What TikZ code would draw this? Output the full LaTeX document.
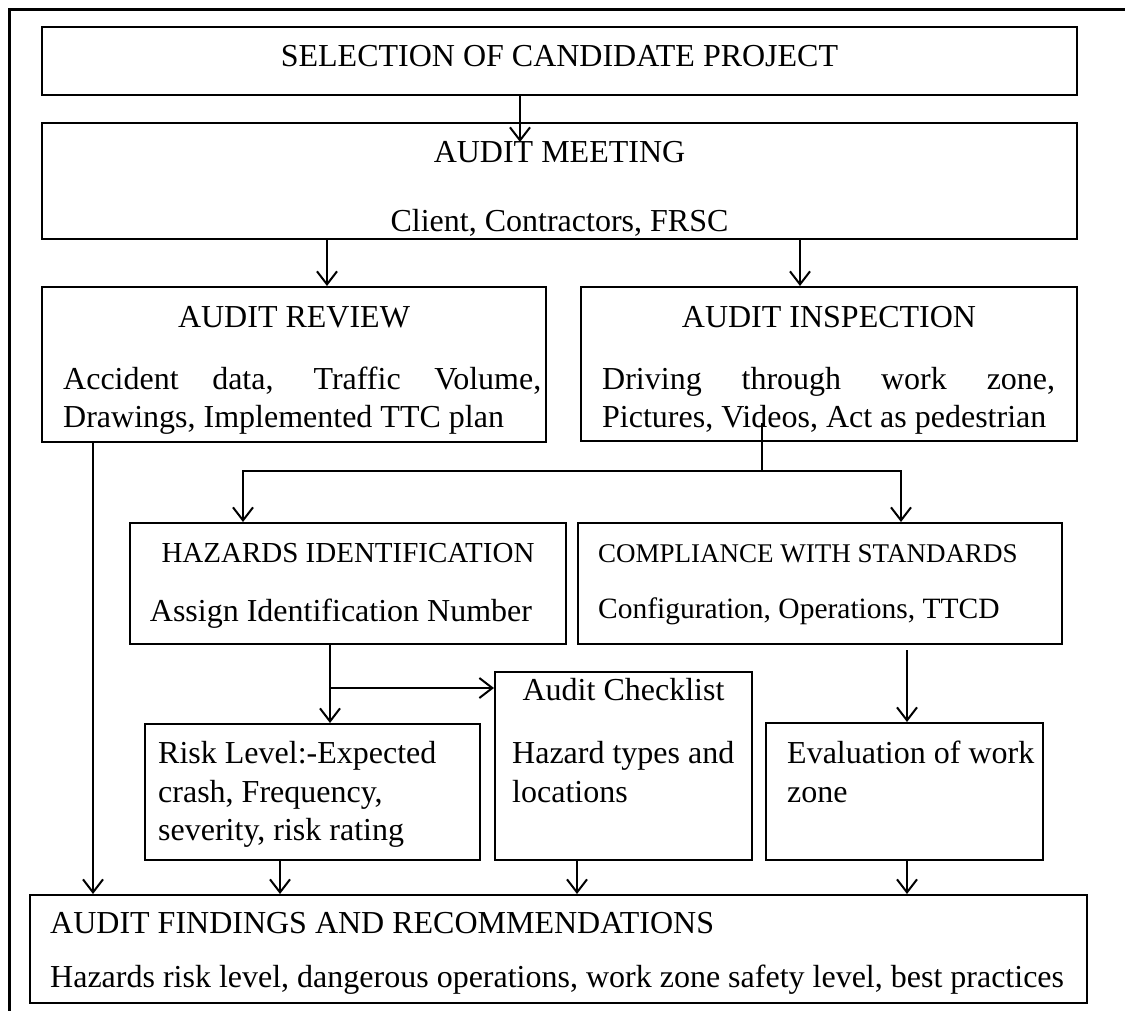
\documentclass[tikz,border=0pt]{standalone}
\usepackage{fontspec}
\setmainfont{Liberation Serif}
\usetikzlibrary{calc,arrows.meta}

\begin{document}
\begin{tikzpicture}[x=1pt,y=-1pt,
    box/.style={draw,line width=2pt,inner sep=0pt},
    txt/.style={anchor=base,inner sep=0pt,font=\fontsize{32}{38}\selectfont},
    ltxt/.style={anchor=base west,inner sep=0pt,font=\fontsize{32}{38}\selectfont},
    stxt/.style={anchor=base,inner sep=0pt,font=\fontsize{29}{35}\selectfont},
    sltxt/.style={anchor=base west,inner sep=0pt,font=\fontsize{27}{33}\selectfont},
    arr/.style={-{Straight Barb[length=13pt,width=20pt]},line width=2pt}]
  \useasboundingbox (0,0) rectangle (1125,1011);
  % page frame
  \draw[line width=3pt] (9,1011) -- (9,10) -- (1125,10);

  % boxes
  \node[box,minimum width=1035,minimum height=68] (sel) at (559.5,61) {};
  \node[box,minimum width=1035,minimum height=116] (meet) at (559.5,181) {};
  \node[box,minimum width=504,minimum height=155] (rev) at (294,364.5) {};
  \node[box,minimum width=496,minimum height=154] (insp) at (829,364) {};
  \node[box,minimum width=436,minimum height=121] (haz) at (348,583.5) {};
  \node[box,minimum width=484,minimum height=121] (comp) at (820,583.5) {};
  \node[box,minimum width=335,minimum height=136] (risk) at (312.5,792) {};
  \node[box,minimum width=257,minimum height=188] (check) at (623.5,766) {};
  \node[box,minimum width=277,minimum height=137] (eval) at (904.5,791.5) {};
  \node[box,minimum width=1057,minimum height=108] (find) at (558.5,949) {};

  % texts
  \node[txt] (selT) at (559.5,67) {SELECTION OF CANDIDATE PROJECT};
  \node[txt] (meetT) at (559.5,163) {AUDIT MEETING};
  \node[txt] (meetL) at (559.5,232) {Client, Contractors, FRSC};
  \node[txt] (revT) at (294,327) {AUDIT REVIEW};
  \node[ltxt] (revA) at (63,389) {\makebox[478pt][s]{Accident data, Traffic Volume,}};
  \node[ltxt] (revB) at (63,427) {Drawings, Implemented TTC plan};
  \node[txt] (inspT) at (829,327) {AUDIT INSPECTION};
  \node[ltxt] (inspA) at (602,389) {\makebox[453pt][s]{Driving through work zone,}};
  \node[ltxt] (inspB) at (602,427) {Pictures, Videos, Act as pedestrian};
  \node[stxt] (hazT) at (348,562) {HAZARDS IDENTIFICATION};
  \node[txt] (hazL) at (341,621) {Assign Identification Number};
  \node[sltxt] (compT) at (598,562) {COMPLIANCE WITH STANDARDS};
  \node[sltxt,font=\fontsize{29.5}{35}\selectfont] (compL) at (598,618) {Configuration, Operations, TTCD};
  \node[ltxt] (riskA) at (158,763) {Risk Level:-Expected};
  \node[ltxt] (riskB) at (158,802) {crash, Frequency,};
  \node[ltxt] (riskC) at (158,840) {severity, risk rating};
  \node[txt] (checkT) at (623.5,700) {Audit Checklist};
  \node[ltxt] (checkA) at (512,763) {Hazard types and};
  \node[ltxt] (checkB) at (512,802) {locations};
  \node[ltxt] (evalA) at (787,763) {Evaluation of work};
  \node[ltxt] (evalB) at (787,802) {zone};
  \node[ltxt] (findT) at (50,933) {AUDIT FINDINGS AND RECOMMENDATIONS};
  \node[ltxt] (findL) at (50,987) {Hazards risk level, dangerous operations, work zone safety level, best practices};

  % connectors
  \coordinate (s1) at (520,142);
  \coordinate (split) at (762,471);
  \coordinate (fork) at (330,688);
  \draw[arr] (sel.south -| s1) -- (s1);
  \draw[arr] (meet.south -| 327,0) -- (rev.north -| 327,0);
  \draw[arr] (meet.south -| 800,0) -- (insp.north -| 800,0);
  \draw[line width=2pt] (762,423) -- (split);
  \draw[arr] (split) -| (haz.north -| 243,0);
  \draw[arr] (split) -| (comp.north -| 901,0);
  \draw[arr] (haz.south -| fork) -- (risk.north -| fork);
  \draw[arr] (fork) -- (check.west |- fork);
  \draw[arr] (comp.south -| 907,0) ++(0,5) -- (eval.north -| 907,0);
  \draw[arr] (rev.south -| 93,0) -- (find.north -| 93,0);
  \draw[arr] (risk.south -| 280,0) -- (find.north -| 280,0);
  \draw[arr] (check.south -| 577,0) -- (find.north -| 577,0);
  \draw[arr] (eval.south -| 907,0) -- (find.north -| 907,0);
\end{tikzpicture}
\end{document}
